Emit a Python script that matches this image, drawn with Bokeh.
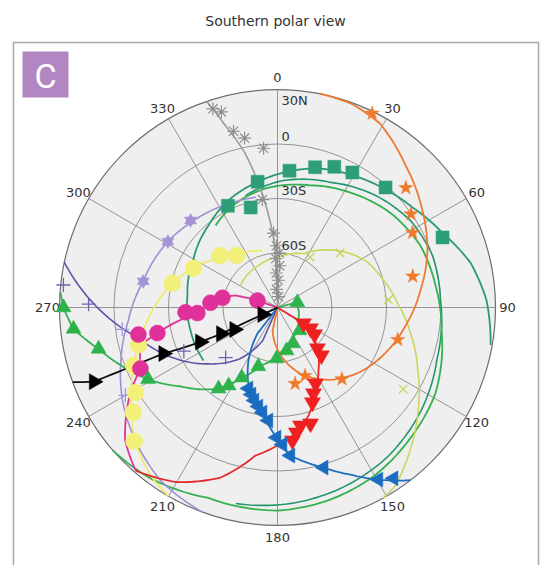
import numpy as np
from bokeh.plotting import figure
from bokeh.models import Range1d
from bokeh.embed import file_html
from bokeh.resources import INLINE
from bokeh.core.properties import value

# ---------------- data (longitude deg, latitude deg) ----------------
title_text = "Southern polar view"
panel_label = "C"
angle_ticks = [0, 30, 60, 90, 120, 150, 180, 210, 240, 270, 300, 330]
ring_lats = [-60, -30, 0]
ring_labels = ["60S", "30S", "0", "30N"]
ring_label_lats = [-60, -30, 0, 30]

gray_line_lon = [341, 344, 348, 351, 354, 357, 358, 0, 0]
gray_line_lat = [30, 14.2, -2.6, -19.2, -36.3, -53.1, -69.6, -86, -90]
gray_pts_lon = [342, 344, 346, 349, 355, 352, 357, 359, 2, 358, 3, 358, 2, 357, 5]
gray_pts_lat = [25, 22, 10, 5, -2, -30, -49, -56, -60, -63, -67, -71, -75, -80, -84]

orange_line_lon = [192, 192, 176, 161, 144, 128, 113, 98, 83, 69, 56, 42, 29, 20, 11]
orange_line_lat = [-90, -77, -63.5, -51.5, -40.8, -32.3, -25.6, -18.8, -10.7, -1.6, 6.1, 15.3, 26.0, 29.3, 30]
orange_pts_lon = [26, 47, 55, 61, 77, 105, 138, 158, 167]
orange_pts_lat = [28.9, 6.6, -0.3, -5.0, -13.6, -21.5, -37.0, -49.5, -47.0]

teal_pts_lon = [334, 345, 351, 5, 15, 22, 29, 42, 67]
teal_pts_lat = [-27.7, -33.0, -19.9, -14.4, -10.1, -6.5, -5.0, -1.1, 8.7]
teal_line_lon = [100, 88, 77, 66, 53.5, 42.5, 29.6, 16.4, 4.6, 351.4, 336.7, 319.9, 300.3, 277.6, 255.2, 234.4]
teal_line_lat = [29.1, 25.1, 19.1, 9.8, 2.5, -1.9, -6.4, -10.2, -14.9, -19.9, -24.7, -31.0, -36.5, -40.0, -40.5, -39.9]

green_circ_lon = [323, 338, 354, 15, 34, 51, 67, 82, 98, 119, 134, 151.5, 165.5, 180, 200, 217, 229]
green_circ_lat = [-33.4, -28.2, -24.2, -20.4, -14.6, -8.6, -4.2, -2.2, 1.2, 9.1, 12.4, 17.2, 19.8, 21.8, 21.5, 27.3, 30]
green2_circ_lon = [344, 2.7, 23, 41, 57, 71.5, 87.5, 108, 127.5, 144, 161, 176, 192]
green2_circ_lat = [-25.9, -20.0, -15.2, -8.1, -2.5, 0.0, -0.2, 2.3, 7.8, 12.2, 15.5, 18.1, 20.3]
green_pts_lon = [76, 136, 157, 168, 181, 198, 207, 212, 216, 241, 257, 264, 270]
green_pts_lat = [-78.7, -72.5, -68.5, -65.8, -61.9, -55.9, -46.7, -39.3, -34.8, -8.5, 11.1, 22.9, 27.8]
green_line_lon = [274, 270, 264, 257, 250, 241, 231, 216, 207, 196, 176, 154, 118, 75, 75]
green_line_lat = [29.7, 27.8, 22.9, 11.1, 2.2, -8.5, -21.1, -34.8, -46.7, -56.7, -65.2, -71.1, -77.0, -79.7, -90]

magenta_pts_lon = [289, 280, 274, 266, 267, 258, 259, 246]
magenta_pts_lat = [-78.3, -59.2, -53.0, -45.8, -39.3, -22.4, -12.0, -7.4]
magenta_line_lon = [289, 289, 286, 280, 266, 258, 254.5, 246, 238, 229, 221]
magenta_line_lat = [-90, -78.3, -65.9, -59.2, -45.8, -22.4, -11.7, -7.4, 6.7, 21.2, 29.0]

red_line_lon = [221, 210, 198.5, 188.5, 178.7, 172, 164, 157, 147, 134, 121.6, 121.6]
red_line_lat = [29.0, 21.0, 8.7, -7.6, -15.1, -19.9, -28.1, -37.4, -48.6, -60.0, -73.2, -90]
red_pts_lon = [121.6, 122.5, 126, 135.7, 137.5, 153.4, 157.3, 159.8, 164.1, 169, 171.4, 173.6]
red_pts_lat = [-73.2, -68.5, -64.8, -58.5, -54.2, -43.2, -38.7, -34.3, -23.6, -23.8, -20.4, -16.3]

blue_pts_lon = [199.7, 196.6, 193.9, 190.9, 188.1, 184.6, 180.4, 177.9, 175, 163.9, 149.6, 145.8]
blue_pts_lat = [-42.7, -40.0, -37.3, -34.5, -31.6, -27.6, -18.4, -14.5, -8.2, 1.7, 19.8, 23.7]
blue_line_lon = [217.6, 217.6, 208.7, 200.4, 188.1, 180.4, 175, 163.9, 156.4, 149.6, 142.4]
blue_line_lat = [-90, -71.9, -56.7, -44.2, -31.6, -18.4, -8.2, 1.7, 10.4, 19.8, 30]

black_pts_lon = [248, 248, 246, 245, 243, 245]
black_pts_lat = [19.0, -22.3, -43.4, -55.8, -63.4, -80.9]
black_line_lon = [250, 248, 248, 246, 245, 245, 245]
black_line_lat = [30, 19, -22.3, -43.4, -55.8, -80.9, -90]

yellow_pts_lon = [322, 312, 295, 283, 255, 248, 239, 234, 227]
yellow_pts_lat = [-53.6, -47.5, -39.0, -30.6, -10.7, -4.6, 1.1, 8.1, 17.9]
yellow_line_lon = [345, 322, 305, 295, 283, 271, 256.5, 245, 235, 225.6, 217, 210]
yellow_line_lat = [-57.6, -53.6, -45.0, -39.0, -30.6, -22.8, -12.4, -1.8, 8.4, 18.6, 25.9, 30]

yg_line_lon = [301, 336, 3, 26, 40, 52, 63, 75, 88, 101, 114, 126, 137, 146.5, 151]
yg_line_lat = [-66.3, -64.6, -61.9, -57.0, -48.6, -41.0, -34.6, -30.0, -23.9, -15.4, -5.5, 5.7, 17.1, 27.6, 30]
yg_pts_lon = [33, 49, 86, 123]
yg_pts_lat = [-57.0, -44.3, -28.8, -7.5]

lav_pts_lon = [315, 301, 281]
lav_pts_lat = [-22.3, -19.6, -14.7]
lav_line_lon = [349, 336, 322.5, 314, 301, 281, 265, 251, 239, 227, 214, 200]
lav_line_lat = [-28.2, -27.2, -24.8, -23.1, -19.6, -14.7, -7.6, 1.2, 9.5, 17.1, 25.0, 30]
lav_cross_lon = [262, 240]
lav_cross_lat = [-3.7, 6.7]

pur_line_lon = [282, 269, 258, 244, 231, 216, 204, 204]
pur_line_lat = [30, 7.4, -11.2, -26.5, -40.7, -55.3, -70.1, -90]
pur_pts_lon = [276, 271, 245, 226]
pur_pts_lat = [28.5, 14.0, -33.1, -50.3]

# ---------------- projection (azimuthal equidistant, south pole centre) --------
R = 218.0
LAT_OUT = 30.0


def rad(lat):
    return (np.asarray(lat, float) + 90.0) / (LAT_OUT + 90.0) * R


def proj(lon, lat):
    a = np.radians(np.asarray(lon, float))
    r = rad(lat)
    return r * np.sin(a), r * np.cos(a)


def densify(lon, lat, n=12):
    """Trace each segment on the map in small lon/lat steps (map-line rendering)."""
    lon = np.asarray(lon, float)
    lat = np.asarray(lat, float)
    olon, olat = [lon[0]], [lat[0]]
    t = np.linspace(0, 1, n + 1)[1:]
    for i in range(len(lon) - 1):
        d = (lon[i + 1] - lon[i] + 180.0) % 360.0 - 180.0
        olon.extend(lon[i] + d * t)
        olat.extend(lat[i] + (lat[i + 1] - lat[i]) * t)
    return np.array(olon), np.array(olat)


p = figure(width=545, height=565, output_backend="svg", toolbar_location=None,
           x_range=Range1d(-277, 268), y_range=Range1d(-258, 307),
           min_border=0, background_fill_color="white", border_fill_color="white")
p.axis.visible = False
p.grid.visible = False
p.outline_line_color = None

FONT = value("DejaVu Sans")

# frame
p.quad(left=-264, right=261, top=265, bottom=-400, fill_color=None,
       line_color="#a8a8a8", line_width=1.5)
# title
p.text(x=[-2], y=[287], text=[title_text], text_font=FONT, text_font_size="14px",
       text_color="#333333", text_align="center", text_baseline="middle")
# panel label
p.quad(left=-255, right=-209, top=256, bottom=210, fill_color="#b286c2", line_color=None)
p.text(x=[-232], y=[232], text=[panel_label], text_font=value("Roboto"), text_font_size="34px",
       text_color="white", text_align="center", text_baseline="middle")

# disc
p.circle(x=[0], y=[0], radius=R, fill_color="#efeff0", line_color="#6e6e6e", line_width=1.2)
for lt in ring_lats:
    p.circle(x=[0], y=[0], radius=float(rad(lt)), fill_color=None, line_color="#8a8a8a", line_width=0.9)
for a in angle_ticks:
    ex, ey = proj([a], [LAT_OUT])
    p.line(x=[0, ex[0]], y=[0, ey[0]], line_color="#8a8a8a", line_width=0.9)
    lx, ly = np.radians(a), R + 12
    p.text(x=[ly * np.sin(lx)], y=[ly * np.cos(lx)], text=[str(a)], text_font=FONT,
           text_font_size="13px", text_color="#333333", text_align="center", text_baseline="middle")
for lab, lt in zip(ring_labels, ring_label_lats):
    yy = float(rad(lt)) + (-11 if lt == LAT_OUT else 8)
    p.text(x=[4], y=[yy], text=[lab], text_font=FONT, text_font_size="13px",
           text_color="#333333", text_align="left", text_baseline="middle")


def line(lon, lat, color, w=1.8):
    x, y = proj(*densify(lon, lat))
    p.line(x=x, y=y, line_color=color, line_width=w)


def pts(lon, lat, marker, color, size, angle=0.0, line=False, lw=1.0):
    x, y = proj(lon, lat)
    if line:
        p.scatter(x=x, y=y, marker=marker, size=size, line_color=color, line_width=lw,
                  fill_color=None, angle=angle)
    else:
        p.scatter(x=x, y=y, marker=marker, size=size, fill_color=color, line_color=color,
                  line_width=0.5, angle=angle)


# lines
line(teal_line_lon, teal_line_lat, "#2a9a72")
line(green2_circ_lon, green2_circ_lat, "#23976a", 1.6)
line(green_circ_lon, green_circ_lat, "#34b04f")
line(yg_line_lon, yg_line_lat, "#c9d65a", 1.6)
line(yellow_line_lon, yellow_line_lat, "#eeec5c", 1.6)
line(lav_line_lon, lav_line_lat, "#9f8fd2", 1.6)
line(pur_line_lon, pur_line_lat, "#5e52a8", 1.6)
line(gray_line_lon, gray_line_lat, "#9a9a9a", 1.6)
line(orange_line_lon, orange_line_lat, "#ee7a32")
line(green_line_lon, green_line_lat, "#34b04f")
line(magenta_line_lon, magenta_line_lat, "#dd3399")
line(red_line_lon, red_line_lat, "#e52a2a")
line(blue_line_lon, blue_line_lat, "#1f6fbe")
line(black_line_lon, black_line_lat, "#111111")

# markers
pts(gray_pts_lon, gray_pts_lat, "asterisk", "#8e8e8e", 13, line=True, lw=1.2)
pts(yg_pts_lon, yg_pts_lat, "x", "#c6d25e", 12, line=True, lw=1.3)
pts(lav_cross_lon, lav_cross_lat, "cross", "#a593d6", 14, line=True, lw=1.3)
pts(pur_pts_lon, pur_pts_lat, "cross", "#6d62b0", 14, line=True, lw=1.3)
pts(lav_pts_lon, lav_pts_lat, "triangle", "#a593d6", 12)
pts(lav_pts_lon, lav_pts_lat, "inverted_triangle", "#a593d6", 12)
pts(yellow_pts_lon, yellow_pts_lat, "circle", "#f3f07a", 17)
pts(teal_pts_lon, teal_pts_lat, "square", "#2e9e78", 13)
pts(orange_pts_lon, orange_pts_lat, "star", "#f07a2a", 15)
pts(magenta_pts_lon, magenta_pts_lat, "circle", "#e0309a", 16)
pts(green_pts_lon, green_pts_lat, "triangle", "#2db34a", 15)
pts(red_pts_lon, red_pts_lat, "inverted_triangle", "#ee2020", 16)
pts(blue_pts_lon, blue_pts_lat, "triangle", "#1a6cc0", 15, angle=np.pi / 2)
pts(black_pts_lon, black_pts_lat, "triangle", "#000000", 16, angle=-np.pi / 2)

open("out.html", "w").write(file_html(p, INLINE))
